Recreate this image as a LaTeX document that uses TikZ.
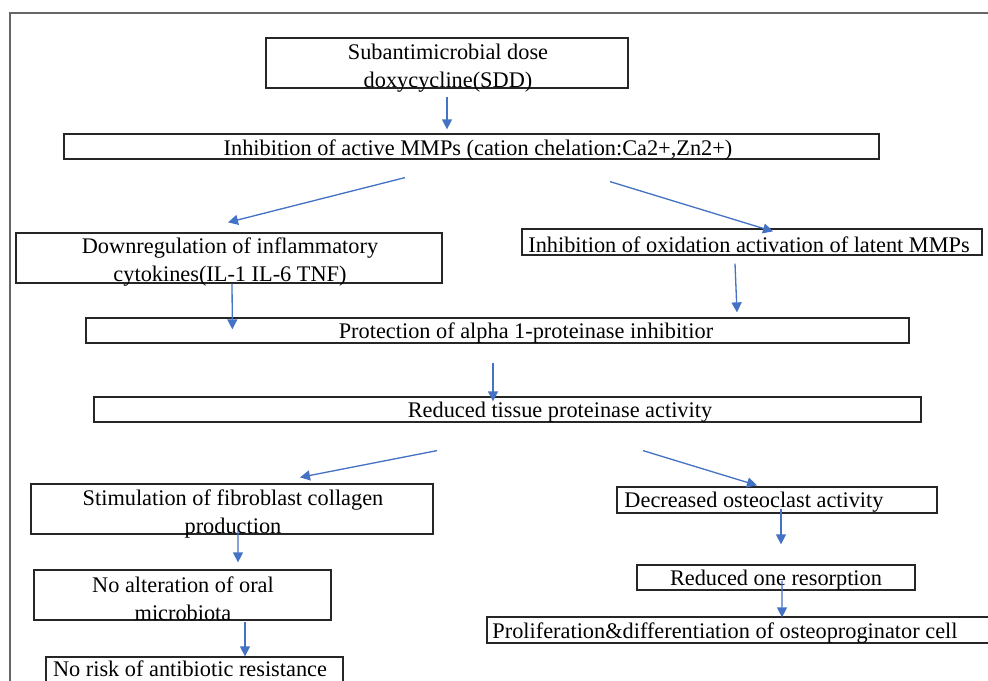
\documentclass[tikz,border=0pt]{standalone}
\usepackage{fontspec}
\setmainfont{Liberation Serif}
\usetikzlibrary{arrows.meta,calc}
\definecolor{arrowblue}{HTML}{4472C4}

\begin{document}
\begin{tikzpicture}[x=0.2mm, y=-0.2mm,
        box/.style = {draw=black!85, line width=0.7pt, inner sep=0pt},
        txt/.style = {align=center, inner sep=0pt, font=\fontsize{12.7}{15.9}\selectfont},
        arr/.style = {draw=arrowblue, line width=0.75pt, -{Triangle[length=2mm, width=2mm]}}]
        \useasboundingbox (0,0) rectangle (988,681);
        \draw[black!60, line width=0.9pt] (10,700) -- (10,13) -- (995,13);
        \node[box, minimum width=72.4mm, minimum height=10mm] (sdd) at (447,63) {};
        \node[txt] (sdd-t) at (448,68) {Subantimicrobial dose\\doxycycline(SDD)};
        \node[box, minimum width=163mm, minimum height=5mm] (mmp) at (471.5,146.5) {};
        \node[txt] (mmp-t) at (478,150) {Inhibition of active MMPs (cation chelation:Ca2+,Zn2+)};
        \node[box, minimum width=85.2mm, minimum height=10mm] (down) at (229,258) {};
        \node[txt] (down-t) at (230,262) {Downregulation of inflammatory\\cytokines(IL-1 IL-6 TNF)};
        \node[box, minimum width=92mm, minimum height=5.2mm] (oxid) at (752,242) {};
        \node[txt] (oxid-t) at (749,245) {Inhibition of oxidation activation of latent MMPs};
        \node[box, minimum width=164.6mm, minimum height=5mm] (prot) at (497.5,330.5) {};
        \node[txt] (prot-t) at (526,333) {Protection of alpha 1-proteinase inhibitior};
        \node[box, minimum width=165.4mm, minimum height=5mm] (red) at (507.5,409.5) {};
        \node[txt] (red-t) at (560,412) {Reduced tissue proteinase activity};
        \node[box, minimum width=80.4mm, minimum height=10mm] (stim) at (232,509) {};
        \node[txt] (stim-t) at (233,514) {Stimulation of fibroblast collagen\\production};
        \node[box, minimum width=64mm, minimum height=5.2mm] (osteo) at (777,500) {};
        \node[txt] (osteo-t) at (754,502) {Decreased osteoclast activity};
        \node[box, minimum width=59.4mm, minimum height=10mm] (noalt) at (182.5,595) {};
        \node[txt] (noalt-t) at (183,599) {No alteration of oral\\microbiota};
        \node[box, minimum width=59.4mm, minimum height=5.6mm] (norisk) at (194.5,671) {};
        \node[txt] (norisk-t) at (190,669) {No risk of antibiotic resistance};
        \node[box, minimum width=55.6mm, minimum height=5mm] (resorp) at (776,577.5) {};
        \node[txt] (resorp-t) at (776,580) {Reduced one resorption};
        \node[box, minimum width=102.6mm, minimum height=5.2mm] (prolif) at (743.5,630) {};
        \node[txt] (prolif-t) at (725,633) {Proliferation\&differentiation of osteoproginator cell};
        \draw[arr] ([shift={(0,8)}]sdd.south) -- ([shift={(-24.5,-4)}]mmp.north);
        \draw[arr] ([shift={(-66.5,18)}]mmp.south) -- ([shift={(-1,-10)}]down.north);
        \draw[arr] ([shift={(138.5,22)}]mmp.south) -- ([shift={(21,3)}]oxid.north);
        \draw[arr] ([shift={(3,0)}]down.south) -- ([shift={(147,12)}]prot.north west);
        \draw[arr] ([shift={(-17,8)}]oxid.south) -- ([shift={(239.5,-5)}]prot.north);
        \draw[arr] ([shift={(-4.5,19)}]prot.south) -- ([shift={(-14.5,5)}]red.north);
        \draw[arr] ([shift={(-70.5,28)}]red.south) -- ([shift={(68,-6)}]stim.north);
        \draw[arr] ([shift={(135.5,28)}]red.south) -- ([shift={(-20,-1)}]osteo.north);
        \draw[arr] ([shift={(6,-4)}]stim.south) -- ([shift={(55.5,-7)}]noalt.north);
        \draw[arr] ([shift={(62.5,1)}]noalt.south) -- ([shift={(50.5,0)}]norisk.north);
        \draw[arr] ([shift={(4,-5)}]osteo.south) -- ([shift={(5,-20)}]resorp.north);
        \draw[arr] ([shift={(6,-10)}]resorp.south) -- ([shift={(38.5,1)}]prolif.north);
\end{tikzpicture}
\end{document}
